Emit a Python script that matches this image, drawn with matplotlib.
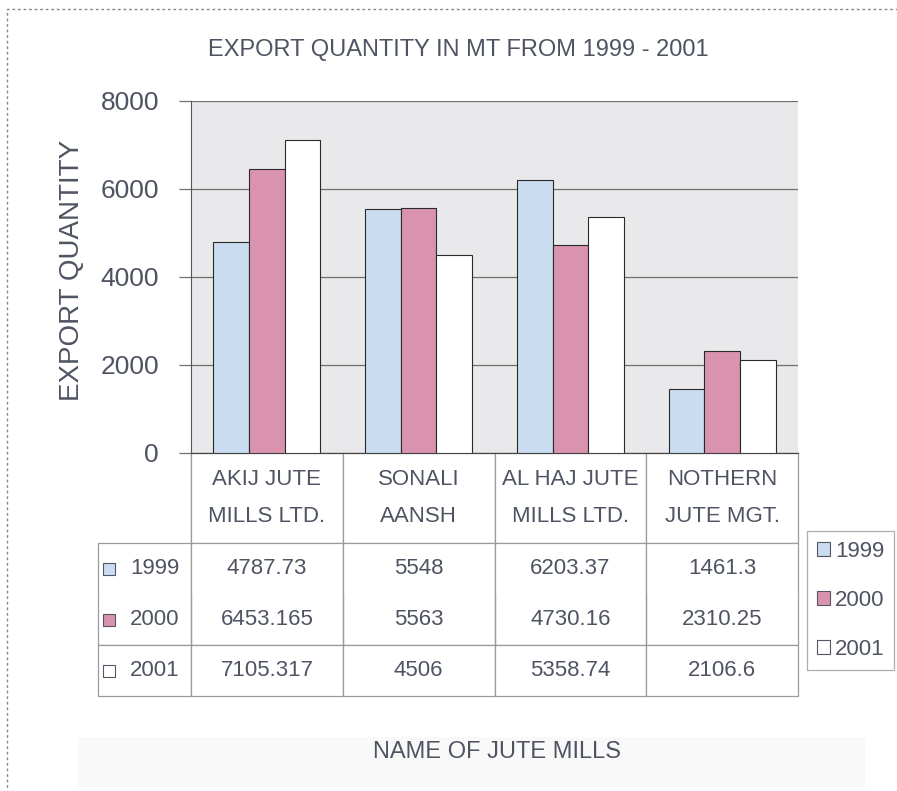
import matplotlib
matplotlib.use('Agg')
import matplotlib.pyplot as plt
from matplotlib.patches import Rectangle, Patch
import numpy as np

plt.rcParams['font.family'] = ['Liberation Sans', 'DejaVu Sans']

# data
mills = ['AKIJ JUTE\nMILLS LTD.', 'SONALI\nAANSH', 'AL HAJ JUTE\nMILLS LTD.', 'NOTHERN\nJUTE MGT.']
years = ['1999', '2000', '2001']
q1999 = [4787.73, 5548, 6203.37, 1461.3]
q2000 = [6453.165, 5563, 4730.16, 2310.25]
q2001 = [7105.317, 4506, 5358.74, 2106.6]
yticks = [0, 2000, 4000, 6000, 8000]

series = [q1999, q2000, q2001]
colors = ['#c9dcf0', '#d993ae', '#ffffff']
txt = '#4f5463'

W, H = 897, 791
# axes box in pixels
AX_L, AX_R, AX_T, AX_B = 191, 798, 101, 453
axw, axh = AX_R - AX_L, AX_B - AX_T

fig = plt.figure(figsize=(W / 100, H / 100), dpi=100)
ax = fig.add_axes([AX_L / W, 1 - AX_B / H, axw / W, axh / H])
ax.set_facecolor('#e9e9eb')

x = np.arange(len(mills))
bw = 0.235
for i, (vals, c) in enumerate(zip(series, colors)):
    ax.bar(x + (i - 1) * bw, vals, bw, color=c, edgecolor='#2a2a2a', linewidth=0.8, zorder=3)

ax.set_xlim(-0.5, len(mills) - 0.5)
ax.set_ylim(0, 8000)
ax.set_yticks(yticks)
ax.set_yticklabels([str(t) for t in yticks], fontsize=19, color=txt)
ax.set_xticks([])
ax.yaxis.grid(True, color='#707070', linewidth=0.9, zorder=0)
for s in ['top', 'right']:
    ax.spines[s].set_visible(False)
ax.spines['left'].set_color('#555555')
ax.spines['bottom'].set_color('#444444')
ax.tick_params(axis='y', length=9, pad=14, color='#707070', width=0.9)


def fmt(v):
    return ('%f' % v).rstrip('0').rstrip('.')


# data table under the axis; first column holds the year labels
hdr_h, row_h, lab_w = 90, 51, 93
tab_h = hdr_h + 3 * row_h
lab = lab_w / axw
cell_text = [[y] + [fmt(v) for v in s] for y, s in zip(years, series)]
tb = ax.table(cellText=cell_text, colLabels=[''] + mills,
              colWidths=[lab] + [0.25] * 4, cellLoc='center',
              bbox=[-lab, -tab_h / axh, 1 + lab, tab_h / axh])
tb.auto_set_font_size(False)
tb.set_fontsize(16)
for (r, c), cell in tb.get_celld().items():
    cell.set_edgecolor('#9a9a9a')
    cell.set_linewidth(0.9)
    cell.get_text().set_color(txt)
    cell.set_height((hdr_h if r == 0 else row_h) / axh)
    if r == 0:
        cell.get_text().set_linespacing(2.0)
        cell.visible_edges = 'R' if c == 0 else 'closed'
    elif r == 1:
        cell.visible_edges = 'TLR'
    elif r == 2:
        cell.visible_edges = 'BLR'
    if c == 0 and r > 0:
        cell.get_text().set_horizontalalignment('right')
        cell.PAD = 0.12

# colour keys inside the row labels
sq = 12
for i, c in enumerate(colors):
    yc = -(hdr_h + (i + 0.5) * row_h) / axh
    ax.add_patch(Rectangle(((103 - AX_L) / axw, yc - sq / 2 / axh), sq / axw, sq / axh,
                           transform=ax.transAxes, facecolor=c, edgecolor='#555566',
                           linewidth=0.8, clip_on=False, zorder=5))

handles = [Patch(facecolor=c, edgecolor='#555566', linewidth=0.8, label=y) for c, y in zip(colors, years)]
leg = fig.legend(handles=handles, loc='upper left', bbox_to_anchor=(807 / W, 1 - 531 / H),
                 borderaxespad=0, fontsize=16, frameon=True, fancybox=False,
                 handlelength=0.6, handleheight=0.6, handletextpad=0.2, labelspacing=1.25,
                 borderpad=0.45, labelcolor=txt)
leg.get_frame().set_edgecolor('#9a9a9a')
leg.get_frame().set_linewidth(0.9)

fig.text(458 / W, 1 - 50 / H, 'EXPORT QUANTITY IN MT FROM 1999 - 2001', ha='center', va='center',
         fontsize=17, color=txt)
fig.text(72 / W, 1 - 270 / H, 'EXPORT QUANTITY', rotation=90, ha='center', va='center',
         fontsize=20, color=txt)

# faint band behind the x title
fig.patches.append(Rectangle((78 / W, 1 - 787 / H), 787 / W, 50 / H, transform=fig.transFigure,
                             facecolor='#f9f9f9', edgecolor='none', zorder=0))
fig.text(497 / W, 1 - 752 / H, 'NAME OF JUTE MILLS', ha='center', va='center', fontsize=17, color=txt)

# dashed outer border
fig.patches.append(Rectangle((7 / W, -0.01), 1.0, 1 - 9 / H + 0.01, transform=fig.transFigure,
                             facecolor='none', edgecolor='#888888', linestyle=(0, (2, 2)), linewidth=1))

fig.savefig('out.png', dpi=100)
